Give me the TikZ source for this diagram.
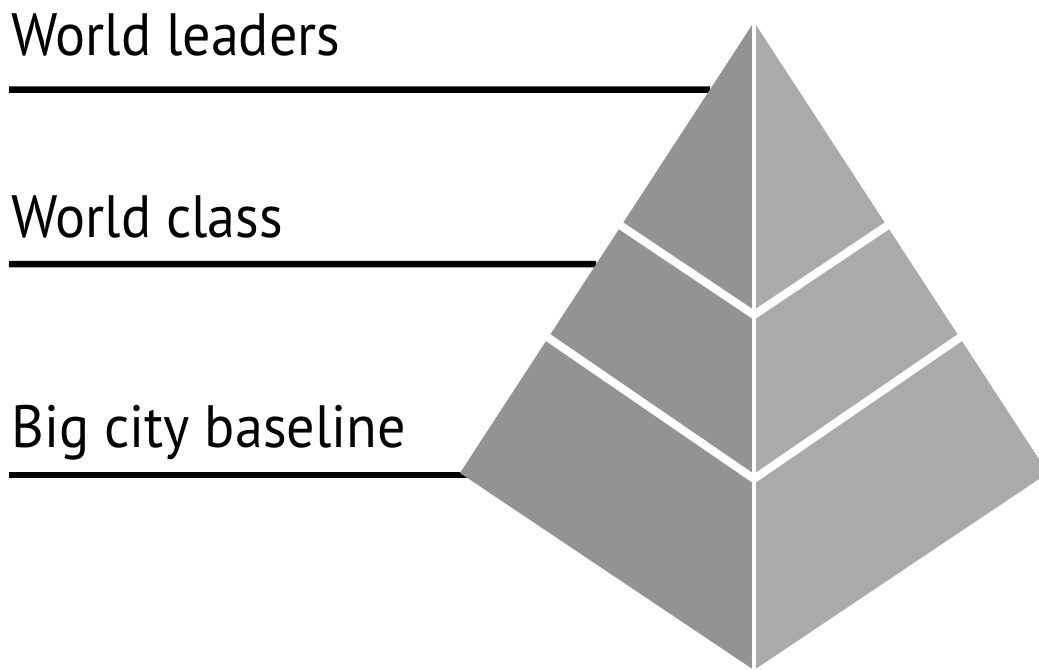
\documentclass[tikz,border=0pt]{standalone}
\usepackage{fontspec}
\setmainfont[FakeStretch=0.94]{PT Sans}
\usetikzlibrary{calc}
\definecolor{shadeleft}{gray}{0.575}
\definecolor{shaderight}{gray}{0.665}
\tikzset{
    % Faces of the pyramid
    left face/.style={fill=shadeleft},
    right face/.style={fill=shaderight},
    cut/.style={white,line width=4.6pt},
    ridge/.style={white,line width=2.4pt},
    %
    % Labels and their rules
    level label/.style={anchor=base west,inner sep=0pt,font=\fontsize{34}{40}\selectfont},
    rule/.style={black,line width=3.7pt}
}

\begin{document}
\begin{tikzpicture}[x=0.02cm,y=-0.02cm]
    \useasboundingbox (0,0) rectangle (1039,670);

    % corners
    \coordinate (apex) at (754,22);
    \coordinate (left) at (460,473);
    \coordinate (front) at (754,670);
    \coordinate (right) at (1048,473);

    % where the levels meet
    \coordinate (a1) at ($(apex)!.452!(left)$);
    \coordinate (c1) at ($(apex)!.452!(front)$);
    \coordinate (b1) at ($(apex)!.452!(right)$);
    \coordinate (a2) at ($(apex)!.70!(left)$);
    \coordinate (c2) at ($(apex)!.705!(front)$);
    \coordinate (b2) at ($(apex)!.70!(right)$);

    % labels
    \node[level label] (leaders) at (11,55) {World leaders};
    \node[level label] (class) at (11,237) {World class};
    \node[level label] (baseline) at (11,447) {Big city baseline};

    \coordinate (r1) at (9,89.5);
    \coordinate (r2) at (9,264);
    \coordinate (r3) at (9,475);
    \draw[rule] (r1) -- ($(apex)!.15!(left)$);
    \draw[rule] (r2) -- ($(apex)!.537!(left)$);
    \draw[rule] (r3) -- (738,475);

    % the two visible faces
    \fill[left face] (apex) -- (left) -- (front) -- cycle;
    \fill[right face] (apex) -- (right) -- (front) -- cycle;

    % gaps between the levels
    \draw[cut] ($(c1)!1.06!(a1)$) -- (c1) -- ($(c1)!1.06!(b1)$);
    \draw[cut] ($(c2)!1.06!(a2)$) -- (c2) -- ($(c2)!1.06!(b2)$);
    \draw[ridge] ($(apex)+(0,-4)$) -- ($(front)+(0,4)$);
\end{tikzpicture}
\end{document}
